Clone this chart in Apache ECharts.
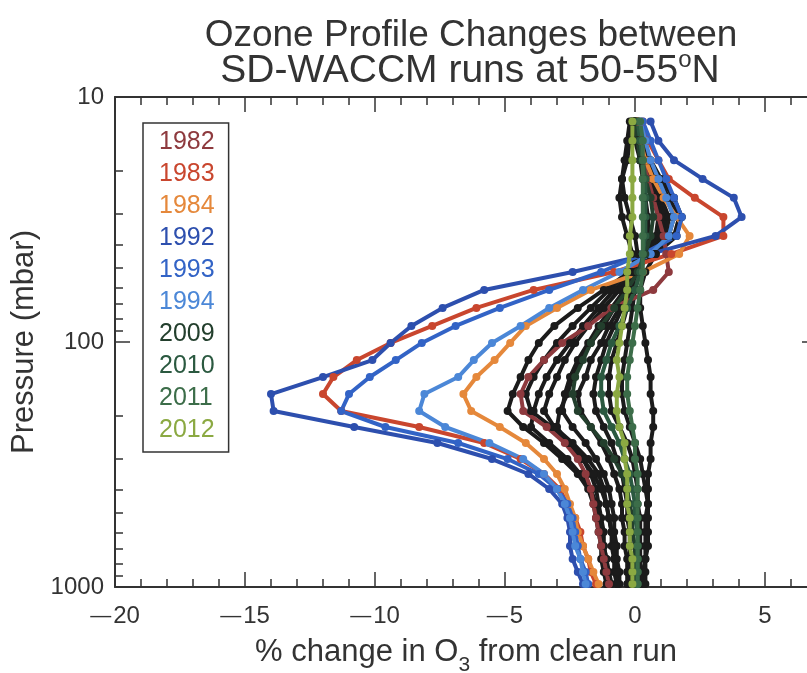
<!DOCTYPE html>
<html>
<head>
<meta charset="utf-8">
<script src="https://cdn.jsdelivr.net/npm/echarts@6/dist/echarts.min.js"></script>
<style>html,body{margin:0;padding:0;background:#fff}#c{width:807px;height:673px}</style>
</head>
<body>
<div id="c"></div>
<script>
// Pressure levels (mbar)
const levels = [12.6, 15.1, 18.1, 21.6, 25.8, 30.9, 36.9, 43.7, 51.8, 61.3, 72.6, 86.0, 100.9, 118.5, 139.0, 163.1, 191.3, 222.3, 258.4, 300.4, 345.7, 398.1, 458.3, 522.9, 596.5, 680.4, 768.7, 868.8, 972.3];

// % change in O3 for each highlighted year
const y1982 = [0.1,0.2,0.3,0.5,0.7,0.9,1.1,1.2,1.3,0.7,-0.9,-1.8,-2.8,-3.5,-4.1,-4.4,-4.3,-3.4,-2.7,-2.2,-1.9,-1.7,-1.6,-1.5,-1.4,-1.3,-1.2,-1.1,-1.0];
const y1983 = [0.3,0.5,0.9,1.3,2.3,3.4,3.4,1.4,-0.8,-3.9,-6.1,-7.8,-9.4,-10.7,-11.6,-12.0,-11.3,-8.3,-5.8,-4.4,-3.5,-2.9,-2.6,-2.3,-2.1,-2.0,-1.8,-1.7,-1.5];
const y1984 = [0.1,0.2,0.4,0.7,1.1,1.6,2.1,1.7,0.3,-1.7,-3.0,-4.2,-4.8,-5.4,-6.1,-6.6,-6.3,-5.2,-4.2,-3.5,-3.0,-2.7,-2.5,-2.3,-2.2,-2.0,-1.8,-1.6,-1.4];
const y1992 = [0.6,0.9,1.5,2.6,3.8,4.1,3.1,0.6,-2.4,-5.8,-7.4,-8.6,-9.4,-10.1,-12.0,-14.0,-13.9,-10.8,-7.6,-5.5,-4.1,-3.3,-2.8,-2.6,-2.5,-2.5,-2.4,-2.2,-2.0];
const y1993 = [0.3,0.6,0.9,1.2,1.5,1.8,1.6,0.3,-1.3,-3.3,-5.2,-6.9,-8.2,-9.2,-10.2,-11.0,-11.3,-9.6,-6.8,-4.9,-3.7,-3.0,-2.6,-2.4,-2.3,-2.2,-2.1,-1.9,-1.8];
const y1994 = [0.2,0.4,0.6,0.9,1.2,1.5,1.3,0.6,-0.6,-2.0,-3.3,-4.4,-5.5,-6.2,-6.8,-8.1,-8.3,-7.3,-5.6,-4.3,-3.5,-3.0,-2.7,-2.5,-2.4,-2.3,-2.1,-2.0,-1.9];
const y2009 = [0.0,0.1,0.2,0.4,0.6,0.7,0.6,0.4,0.1,-0.3,-0.8,-1.3,-1.7,-2.0,-2.3,-2.4,-2.2,-1.7,-1.2,-0.8,-0.5,-0.3,-0.2,-0.1,-0.1,0.0,0.0,0.0,0.0];
const y2010 = [0.1,0.2,0.3,0.4,0.4,0.4,0.4,0.3,0.2,0.0,-0.3,-0.6,-0.9,-1.1,-1.3,-1.3,-1.2,-0.9,-0.6,-0.4,-0.2,-0.1,0.0,0.0,0.1,0.1,0.1,0.1,0.1];
const y2011 = [0.2,0.3,0.3,0.3,0.3,0.3,0.3,0.3,0.3,0.2,0.1,0.0,-0.1,-0.2,-0.3,-0.3,-0.2,-0.1,0.0,0.0,0.1,0.1,0.1,0.1,0.1,0.1,0.1,0.1,0.1];
const y2012 = [-0.1,-0.1,-0.1,-0.1,-0.1,-0.1,-0.2,-0.2,-0.3,-0.3,-0.4,-0.5,-0.6,-0.7,-0.6,-0.7,-0.7,-0.6,-0.4,-0.4,-0.3,-0.3,-0.3,-0.2,-0.2,-0.2,-0.1,-0.1,-0.1];

// Other years (drawn in black, not in legend)
const other1 = [0.1,0.3,0.6,1.0,1.5,1.8,1.6,0.8,-0.2,-1.2,-2.2,-3.1,-3.7,-4.1,-4.4,-4.7,-4.9,-4.3,-3.5,-2.8,-2.2,-1.8,-1.6,-1.5,-1.4,-1.3,-1.3,-1.2,-1.1];
const other2 = [0.0,0.2,0.4,0.8,1.2,1.5,1.3,0.5,-0.3,-1.0,-1.7,-2.4,-3.0,-3.5,-3.9,-4.2,-4.0,-3.2,-2.5,-2.0,-1.7,-1.5,-1.4,-1.3,-1.2,-1.2,-1.1,-1.0,-0.9];
const other3 = [0.0,0.1,0.3,0.6,0.9,1.2,1.1,0.6,0.0,-0.6,-1.2,-1.8,-2.3,-2.7,-3.0,-3.3,-3.5,-3.1,-2.4,-1.8,-1.4,-1.2,-1.1,-1.0,-0.9,-0.9,-0.8,-0.8,-0.7];
const other4 = [-0.1,0.0,0.2,0.4,0.7,0.9,0.8,0.4,0.0,-0.4,-0.9,-1.4,-1.8,-2.2,-2.5,-2.7,-2.8,-2.4,-1.9,-1.5,-1.2,-1.0,-0.9,-0.8,-0.8,-0.7,-0.7,-0.6,-0.6];
const other5 = [0.0,0.1,0.3,0.5,0.8,1.1,1.0,0.5,0.1,-0.3,-0.6,-1.0,-1.3,-1.7,-1.9,-2.2,-2.1,-1.7,-1.3,-1.0,-0.8,-0.6,-0.5,-0.5,-0.4,-0.4,-0.3,-0.3,-0.3];
const other6 = [-0.2,-0.3,-0.4,-0.5,-0.4,-0.2,0.0,0.1,0.0,-0.2,-0.5,-0.8,-1.1,-1.3,-1.5,-1.6,-1.5,-1.2,-0.9,-0.7,-0.5,-0.4,-0.3,-0.3,-0.2,-0.2,-0.2,-0.2,-0.2];
const other7 = [-0.1,-0.2,-0.3,-0.5,-0.6,-0.5,-0.3,-0.1,0.0,-0.1,-0.3,-0.5,-0.7,-0.9,-1.0,-1.0,-0.9,-0.6,-0.3,-0.1,0.0,0.1,0.1,0.2,0.2,0.2,0.2,0.2,0.2];
const other8 = [0.1,0.2,0.4,0.7,1.0,1.3,1.2,0.8,0.4,0.2,0.2,0.3,0.4,0.5,0.6,0.6,0.7,0.7,0.6,0.6,0.5,0.5,0.5,0.4,0.4,0.4,0.4,0.3,0.3];
const other9 = [0.0,0.1,0.2,0.5,0.8,1.0,0.9,0.5,0.1,-0.3,-0.8,-1.2,-1.7,-2.1,-2.4,-2.6,-2.9,-3.0,-2.6,-2.0,-1.6,-1.3,-1.1,-1.0,-0.9,-0.8,-0.8,-0.7,-0.7];
const other10 = [0.0,0.2,0.5,0.9,1.3,1.7,1.5,0.7,-0.1,-0.8,-1.4,-2.0,-2.5,-3.0,-3.4,-3.7,-3.9,-4.0,-3.3,-2.6,-2.1,-1.7,-1.5,-1.4,-1.3,-1.2,-1.1,-1.1,-1.0];
const other11 = [0.0,0.1,0.2,0.3,0.4,0.5,0.5,0.4,0.2,0.0,-0.1,-0.2,-0.3,-0.4,-0.5,-0.5,-0.4,-0.2,0.0,0.2,0.3,0.4,0.5,0.5,0.5,0.5,0.4,0.4,0.4];

// Tick values
const xMajorTicks = [-20, -15, -10, -5, 0, 5];
const xMinorTicks = [-19,-18,-17,-16,-14,-13,-12,-11,-9,-8,-7,-6,-4,-3,-2,-1,1,2,3,4,6];
const yMajorTicks = [10, 100, 1000];
const yMinorTicks = [20,30,40,50,60,70,80,90,200,300,400,500,600,700,800,900];

const yearNames = ['1982','1983','1984','1992','1993','1994','2009','2010','2011','2012'];
const yearColors = ['#8e3a3e','#c9462e','#e5883b','#2d4fae','#3263c6','#4b87d7','#233f2d','#2b5940','#3c6d49','#8ba942'];
const yearData = [y1982,y1983,y1984,y1992,y1993,y1994,y2009,y2010,y2011,y2012];
const otherData = [other1,other2,other3,other4,other5,other6,other7,other8,other9,other10,other11];

const FONT = '"Liberation Sans", Arial, Helvetica, sans-serif';
const TXT = '#333';

function pairs(vals){ return levels.map((p,i)=>[vals[i], p]); }

const series = [];
otherData.forEach((d,i)=>{
  series.push({name:'other'+(i+1), type:'line', data:pairs(d), symbol:'circle', symbolSize:8,
    itemStyle:{color:'#1b1b1b'}, lineStyle:{color:'#1b1b1b', width:4}, silent:true});
});
yearData.forEach((d,i)=>{
  series.push({name:yearNames[i], type:'line', data:pairs(d), symbol:'circle', symbolSize:8,
    itemStyle:{color:yearColors[i]}, lineStyle:{color:yearColors[i], width:4}});
});

const xFmt = v => v < 0 ? '{m|—}{n|' + Math.abs(v) + '}' : '{n|' + v + '}';
const axLine = {show:true, onZero:false, lineStyle:{color:'#333', width:2}};
const noLine = {show:false, onZero:false};
const xBase = {type:'value', min:-20, max:7, gridIndex:0, splitLine:{show:false}};
const yBase = {type:'log', min:10, max:1000, inverse:true, logBase:10, gridIndex:0, splitLine:{show:false}};
const tickStyle = {color:'#333', width:1.5};

const option = {
  animation:false,
  backgroundColor:'#fff',
  textStyle:{fontFamily:FONT},
  grid:{left:115, top:97, width:702, height:490, containLabel:false, outerBoundsMode:'none'},
  legend:{
    data: yearNames.map((n,i)=>({name:n, textStyle:{color:yearColors[i]}})),
    orient:'vertical', left:143, top:123,
    itemWidth:0, itemHeight:0, itemGap:7,
    padding:[7,14,9,10],
    borderColor:'#333', borderWidth:1.5,
    selectedMode:false,
    textStyle:{fontSize:25, fontFamily:FONT}
  },
  xAxis:[
    Object.assign({}, xBase, {position:'bottom', axisLine:axLine,
      axisTick:{show:true, inside:true, length:15, customValues:xMajorTicks, lineStyle:tickStyle},
      axisLabel:{show:true, customValues:xMajorTicks, formatter:xFmt, margin:17, color:TXT,
        rich:{m:{fontSize:21, color:TXT, padding:[0,2,0,0], fontFamily:FONT}, n:{fontSize:24, color:TXT, fontFamily:FONT}}},
      name:'% change in O{s|3} from clean run', nameLocation:'middle', nameGap:42,
      nameTextStyle:{color:TXT, fontSize:31, fontFamily:FONT,
        rich:{s:{fontSize:21, color:TXT, padding:[26,0,0,0], fontFamily:FONT}}}}),
    Object.assign({}, xBase, {position:'bottom', axisLine:noLine,
      axisTick:{show:true, inside:true, length:8, customValues:xMinorTicks, lineStyle:tickStyle},
      axisLabel:{show:false}}),
    Object.assign({}, xBase, {position:'top', axisLine:axLine,
      axisTick:{show:true, inside:true, length:15, customValues:xMajorTicks, lineStyle:tickStyle},
      axisLabel:{show:false}}),
    Object.assign({}, xBase, {position:'top', axisLine:noLine,
      axisTick:{show:true, inside:true, length:8, customValues:xMinorTicks, lineStyle:tickStyle},
      axisLabel:{show:false}})
  ],
  yAxis:[
    Object.assign({}, yBase, {position:'left', axisLine:axLine,
      axisTick:{show:true, inside:true, length:15, customValues:yMajorTicks, lineStyle:tickStyle},
      axisLabel:{show:true, customValues:yMajorTicks, formatter:v=>String(Math.round(v)), margin:11, color:TXT, fontSize:24, fontFamily:FONT},
      name:'Pressure (mbar)', nameLocation:'middle', nameGap:69,
      nameTextStyle:{color:TXT, fontSize:31, fontFamily:FONT}}),
    Object.assign({}, yBase, {position:'left', axisLine:noLine,
      axisTick:{show:true, inside:true, length:8, customValues:yMinorTicks, lineStyle:tickStyle},
      axisLabel:{show:false}}),
    Object.assign({}, yBase, {position:'right', axisLine:axLine,
      axisTick:{show:true, inside:true, length:15, customValues:yMajorTicks, lineStyle:tickStyle},
      axisLabel:{show:false}}),
    Object.assign({}, yBase, {position:'right', axisLine:noLine,
      axisTick:{show:true, inside:true, length:8, customValues:yMinorTicks, lineStyle:tickStyle},
      axisLabel:{show:false}})
  ],
  graphic:[
    {type:'text', x:471, y:36, style:{text:'Ozone Profile Changes between', fill:TXT, font:'37px ' + FONT, align:'center', verticalAlign:'middle'}},
    {type:'text', x:470, y:71, style:{text:'{a|SD-WACCM runs at 50-55}{o|o}{a|N}', align:'center', verticalAlign:'middle',
      rich:{a:{fontSize:39, fill:TXT, color:TXT, fontFamily:FONT}, o:{fontSize:24, fill:TXT, color:TXT, fontFamily:FONT, padding:[0,0,21,0]}}}}
  ],
  series: series
};

const chart = echarts.init(document.getElementById('c'), null, {renderer:'canvas'});
chart.setOption(option);
</script>
</body>
</html>
